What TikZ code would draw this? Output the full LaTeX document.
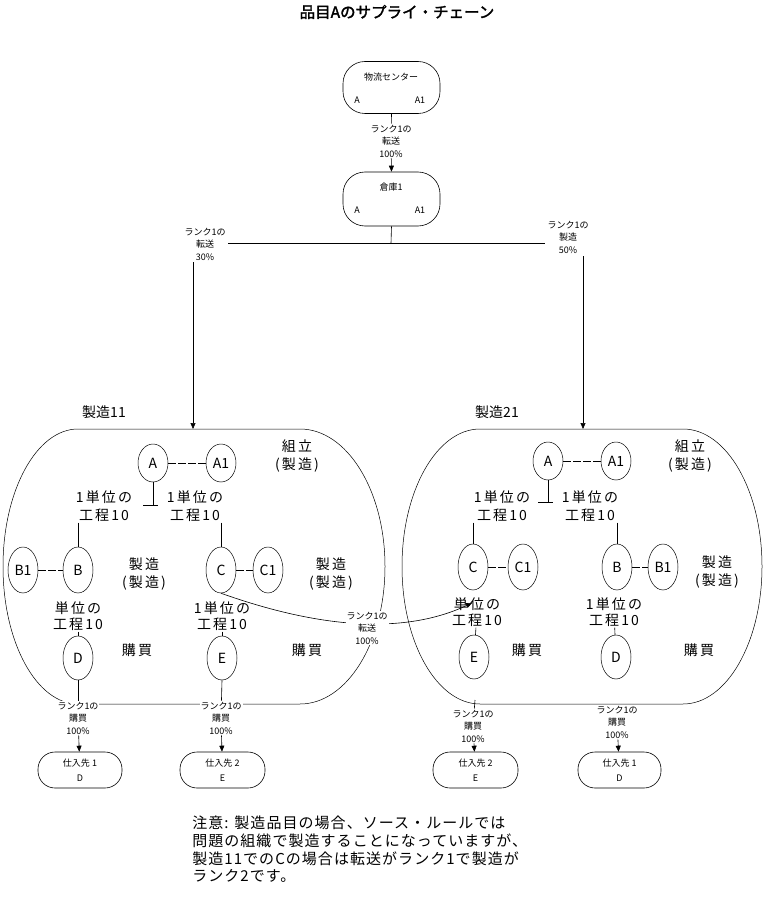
\documentclass[tikz,border=0pt]{standalone}
\usepackage{fontspec}
\setmainfont{Noto Sans CJK JP}[AutoFakeBold=2]
\usetikzlibrary{arrows.meta,shapes.geometric}
\begin{document}
\begin{tikzpicture}[x=1pt,y=-1pt,
  line width=0.6pt,
  arr/.style={-{Triangle[length=6pt,width=5pt]}},
  sml/.style={font=\fontsize{9}{12.5}\selectfont, align=center, inner sep=1pt, fill=white},
  tiny/.style={font=\fontsize{9}{10}\selectfont, inner sep=0pt},
  big/.style={font=\fontsize{14}{18}\selectfont\addfontfeature{LetterSpace=15}, align=center, inner sep=1pt},
  rlab/.style={font=\fontsize{14}{18}\selectfont, inner sep=1pt},
  ell/.style={draw, ellipse, line width=0.5pt, minimum width=30pt, minimum height=38pt, inner sep=0pt, font=\fontsize{14}{14}\selectfont},
  tall/.style={ell, minimum height=46pt},
  pbox/.style={draw, rounded corners=17pt, minimum width=84pt, minimum height=36pt, inner sep=0pt, align=center, font=\fontsize{9}{15}\selectfont},
  topbox/.style={draw, rounded corners=22pt, minimum width=97pt, minimum height=52pt, inner sep=0pt},
  reg/.style={draw, line width=0.5pt},
  dsh/.style={dash pattern=on 8pt off 2pt}
]
\useasboundingbox (0,0) rectangle (771,912);

% title
\node[font=\fontsize{15.5}{15.5}\selectfont\bfseries] (title) at (397,12) {品目Aのサプライ・チェーン};

% top boxes
\node[topbox] (dc) at (391.5,87.5) {};
\node[tiny] (dct) at (391,77) {物流センター};
\node[tiny] (dca) at (357,100) {A};
\node[tiny] (dca1) at (420,100) {A1};
\node[topbox, minimum height=54pt] (wh) at (391.5,199) {};
\node[tiny] (wht) at (391,187) {倉庫1};
\node[tiny] (wha) at (357,210) {A};
\node[tiny] (wha1) at (420,210) {A1};

\node[sml] (t1) at (391,141) {ランク1の\\転送\\100\%};
\draw (dc.south) -- (t1);
\draw[arr] (t1) -- (wh.north);

% junction
\coordinate (jn) at (391,243);
\coordinate (lT) at (193,429);
\coordinate (rT) at (583,429);
\draw (wh.south) -- (jn);
\draw[arr] (jn) -| (lT);
\draw[arr] (jn) -| (rT);
\node[sml, inner sep=2pt] (l30) at (205,244) {ランク1の\\転送\\30\%};
\node[sml, inner sep=3pt] (r50) at (568,237) {ランク1の\\製造\\50\%};

% regions
\draw[reg] (78,429) -- (300,429) arc[start angle=90,end angle=-90,x radius=85pt,y radius=137.5pt] -- (78,704) arc[start angle=270,end angle=90,x radius=75pt,y radius=137.5pt] -- cycle;
\draw[reg] (480,429) -- (683,429) arc[start angle=90,end angle=-90,x radius=79pt,y radius=137.5pt] -- (480,704) arc[start angle=270,end angle=90,x radius=78pt,y radius=137.5pt] -- cycle;
\node[rlab] (m11) at (104,412) {製造11};
\node[rlab] (m21) at (497,412) {製造21};

% ---------- left region ----------
\node[ell] (lA) at (153,463) {A};
\node[ell] (lA1) at (221,463) {A1};
\draw[dsh] (lA) -- (lA1);
\node[big] (lasm) at (297,456) {組立\\(製造)};
\coordinate (ltj) at (153,505);
\draw (lA.south) -- (ltj);
\draw ([xshift=-10pt]ltj) -- ([xshift=5pt]ltj);
\node[big] (lu1) at (104,506) {1単位の\\工程10};
\node[big] (lu2) at (195,506) {1単位の\\工程10};
\node[tall] (lB) at (78,570) {B};
\node[tall] (lB1) at (23,570) {B1};
\node[tall] (lC) at (221,570) {C};
\node[tall] (lC1) at (268,570) {C1};
\draw (lB.north |- lu1.south) -- (lB.north);
\draw (lC.north |- lu2.south) -- (lC.north);
\draw[dsh] (lB1) -- (lB);
\draw[dsh] (lC) -- (lC1);
\node[big] (lmB) at (144,574) {製造\\(製造)};
\node[big] (lmC) at (331,574) {製造\\(製造)};
\node[big, font=\fontsize{14}{16}\selectfont\addfontfeature{LetterSpace=15}] (lu3) at (78,616) {単位の\\工程10};
\node[big, font=\fontsize{14}{16}\selectfont\addfontfeature{LetterSpace=15}] (lu4) at (222,616) {1単位の\\工程10};
\node[tall, minimum height=44pt] (lD) at (78,658) {D};
\node[tall, minimum height=44pt] (lE) at (222,658) {E};
\draw (lu3) -- (lD);
\draw (lu4) -- (lE);
\node[big] (lpu1) at (137,650) {購買};
\node[big] (lpu2) at (307,650) {購買};

% ---------- right region ----------
\node[ell] (rA) at (548,461) {A};
\node[ell] (rA1) at (616,461) {A1};
\draw[dsh] (rA) -- (rA1);
\node[big] (rasm) at (690,456) {組立\\(製造)};
\coordinate (rtj) at (548,502);
\draw (rA.south) -- (rtj);
\draw ([xshift=-10pt]rtj) -- ([xshift=5pt]rtj);
\node[big] (ru1) at (502,506) {1単位の\\工程10};
\node[big] (ru2) at (590,506) {1単位の\\工程10};
\node[tall] (rC) at (473,567) {C};
\node[tall] (rC1) at (523,567) {C1};
\node[tall] (rB) at (617,567) {B};
\node[tall] (rB1) at (663,567) {B1};
\draw (rC.north |- ru1.south) -- (rC.north);
\draw (rB.north |- ru2.south) -- (rB.north);
\draw[dsh] (rC) -- (rC1);
\draw[dsh] (rB) -- (rB1);
\node[big] (rmB) at (717,572) {製造\\(製造)};
\node[big, font=\fontsize{14}{16}\selectfont\addfontfeature{LetterSpace=15}] (ru3) at (477,612) {単位の\\工程10};
\node[big, font=\fontsize{14}{16}\selectfont\addfontfeature{LetterSpace=15}] (ru4) at (614,612) {1単位の\\工程10};
\node[tall, minimum height=44pt] (rE) at (474,657) {E};
\node[tall, minimum height=44pt] (rD) at (616,657) {D};
\draw (ru3) -- (rE);
\draw (ru4) -- (rD);
\node[big] (rpu1) at (527,650) {購買};
\node[big] (rpu2) at (699,650) {購買};

% transfer between regions
\coordinate (tgt) at (472,603);
\draw[arr] (lC.south) .. controls (330,632) and (410,632) .. (tgt);
\node[sml] (ltr) at (367,628) {ランク1の\\転送\\100\%};

% bottom purchases, left
\node[sml] (lpD) at (78,718) {ランク1の\\購買\\100\%};
\node[sml] (lpE) at (221,718) {ランク1の\\購買\\100\%};
\node[pbox] (s1L) at (80,770) {仕入先 1\\D};
\node[pbox, minimum width=85pt] (s2L) at (222.5,770) {仕入先 2\\E};
\draw (lD.south) -- (lpD);
\draw (lE.south) -- (lpE);
\draw[arr] (lpD) -- (s1L);
\draw[arr] (lpE) -- (s2L);

% bottom purchases, right
\node[sml] (rpE) at (473,726) {ランク1の\\購買\\100\%};
\node[sml] (rpD) at (617,722) {ランク1の\\購買\\100\%};
\node[pbox, minimum width=85pt] (s2R) at (475.5,770) {仕入先 2\\E};
\node[pbox, minimum width=83pt] (s1R) at (619.5,770) {仕入先 1\\D};
\coordinate (rtk) at (475,700);
\draw (rtk) -- (rpE);
\draw[arr] (rpE) -- (s2R);
\draw[arr] (rpD) -- (s1R);

% note
\node[anchor=north west, align=left, inner sep=0pt, font=\fontsize{15}{17.6}\selectfont\addfontfeature{LetterSpace=7}] (note) at (192,816)
 {注意: 製造品目の場合、ソース・ルールでは\\問題の組織で製造することになっていますが、\\製造11でのCの場合は転送がランク1で製造が\\ランク2です。};
\end{tikzpicture}
\end{document}
